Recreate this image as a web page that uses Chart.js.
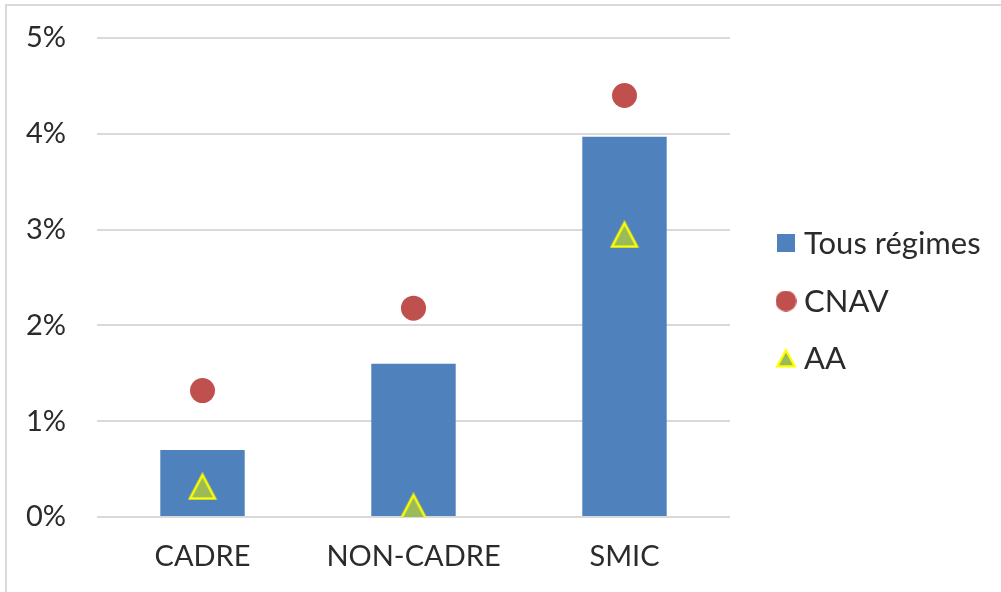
<!DOCTYPE html>
<html>
<head>
<meta charset="utf-8">
<script src="https://cdn.jsdelivr.net/npm/chart.js@4/dist/chart.umd.min.js"></script>
<style>
  html, body { margin: 0; padding: 0; background: #ffffff; }
  #wrap { position: relative; width: 1001px; height: 592px; overflow: hidden; background: #fff; }
  #frame { position: absolute; left: 5px; top: 4px; width: 1100px; height: 700px;
           border-left: 2px solid #d9d9d9; border-top: 2px solid #d9d9d9; pointer-events: none; }
  canvas { position: absolute; left: 0; top: 0; }
</style>
</head>
<body>
<div id="wrap">
  <canvas id="c" width="1001" height="592"></canvas>
  <div id="frame"></div>
</div>
<script>
// ---- data ----
const categories = ['CADRE', 'NON-CADRE', 'SMIC'];
const seriesNames = ['Tous régimes', 'CNAV', 'AA'];
const tousRegimes = [0.70, 1.60, 3.97];
const cnav = [1.32, 2.18, 4.40];
const aa = [0.32, 0.11, 2.95];
const yTicks = [0, 1, 2, 3, 4, 5];

const FONT = 'Lato, "Open Sans", sans-serif';
const TEXT = '#2b2b2b';
const BLUE = '#4F81BD', RED = '#C0504D', GREEN = '#9BBB59', YELLOW = '#FFFF00';

function makeTriangle(w, h, lw) {
  const c = document.createElement('canvas');
  c.width = w; c.height = h;
  const g = c.getContext('2d');
  const i = lw;
  g.beginPath();
  g.moveTo(w / 2, i);
  g.lineTo(w - i, h - i * 0.7);
  g.lineTo(i, h - i * 0.7);
  g.closePath();
  g.fillStyle = GREEN; g.fill();
  g.lineWidth = lw; g.strokeStyle = YELLOW; g.lineJoin = 'miter'; g.stroke();
  return c;
}
function makeRect(s) {
  const c = document.createElement('canvas'); c.width = s; c.height = s;
  const g = c.getContext('2d'); g.fillStyle = BLUE; g.fillRect(0, 0, s, s); return c;
}
function makeCircle(d) {
  const c = document.createElement('canvas'); c.width = d; c.height = d;
  const g = c.getContext('2d'); g.fillStyle = RED; g.beginPath();
  g.arc(d / 2, d / 2, d / 2, 0, Math.PI * 2); g.fill(); return c;
}
const triPoint = makeTriangle(30, 28, 2.5);
const legendMarkers = [makeRect(18), makeCircle(21), makeTriangle(22, 20, 2.2)];

const legendPlugin = {
  id: 'sideLegend',
  afterDraw(chart) {
    const ctx = chart.ctx;
    const rows = [243, 301, 358];
    ctx.save();
    ctx.font = '31px ' + FONT;
    ctx.fillStyle = TEXT;
    ctx.textBaseline = 'middle';
    ctx.textAlign = 'left';
    chart.data.datasets.forEach((ds, i) => {
      const m = legendMarkers[i];
      ctx.drawImage(m, 786 - m.width / 2, rows[i] - m.height / 2);
      ctx.fillText(ds.label, 804, rows[i] + 1);
    });
    ctx.restore();
  }
};

new Chart(document.getElementById('c'), {
  type: 'bar',
  data: {
    labels: categories,
    datasets: [
      { type: 'bar', label: seriesNames[0], data: tousRegimes, backgroundColor: BLUE,
        borderWidth: 0, categoryPercentage: 1.0, barPercentage: 0.4, order: 3 },
      { type: 'line', label: seriesNames[1], data: cnav, showLine: false,
        pointStyle: 'circle', pointRadius: 12.5, pointBackgroundColor: RED,
        pointBorderWidth: 0, pointBorderColor: RED, order: 2 },
      { type: 'line', label: seriesNames[2], data: aa, showLine: false,
        pointStyle: triPoint, pointRadius: 14, order: 1 }
    ]
  },
  options: {
    responsive: false,
    animation: false,
    events: [],
    layout: { padding: { left: 0, top: 38, right: 271, bottom: 0 } },
    plugins: { legend: { display: false }, tooltip: { enabled: false } },
    scales: {
      x: {
        grid: { display: false, drawTicks: false },
        border: { display: false },
        ticks: { color: TEXT, font: { family: FONT, size: 29 }, padding: 22, maxRotation: 0 },
        afterFit(s) { s.height = 75; }
      },
      y: {
        min: 0, max: 5,
        afterBuildTicks(s) { s.ticks = yTicks.map(v => ({ value: v })); },
        grid: { color: '#d9d9d9', lineWidth: 2, drawTicks: false },
        border: { display: false },
        ticks: { color: TEXT, font: { family: FONT, size: 29 }, padding: 31,
                 callback: v => v + '%' },
        afterFit(s) { s.width = 97; s.paddingTop = 0; s.paddingBottom = 0; }
      }
    }
  },
  plugins: [legendPlugin]
});
</script>
</body>
</html>
